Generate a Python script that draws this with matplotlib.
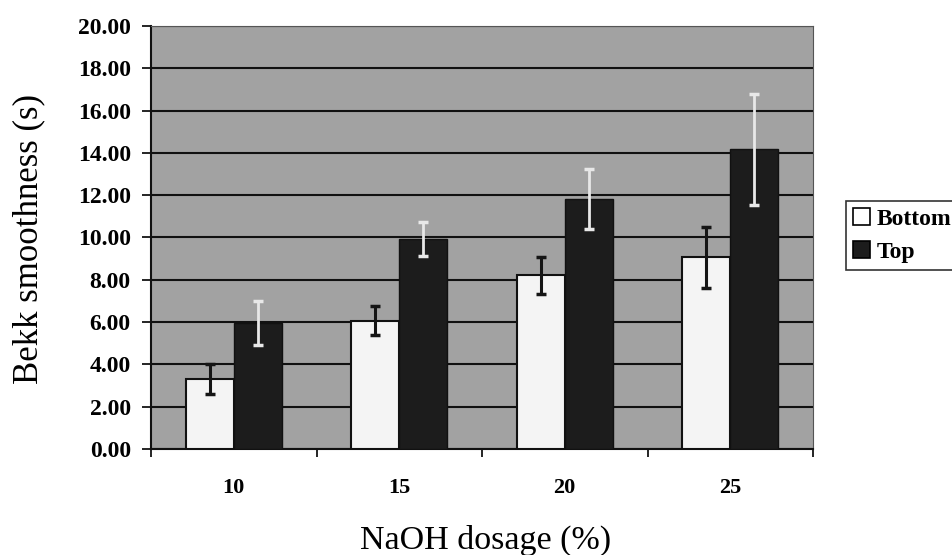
import matplotlib
matplotlib.use("Agg")
import matplotlib.pyplot as plt
import numpy as np
from matplotlib.patches import Patch

categories = ["10", "15", "20", "25"]
bottom_vals = [3.32, 6.06, 8.22, 9.06]
bottom_err = [0.70, 0.68, 0.88, 1.43]
top_vals = [5.95, 9.94, 11.81, 14.17]
top_err = [1.03, 0.80, 1.42, 2.63]
yticks = [0, 2, 4, 6, 8, 10, 12, 14, 16, 18, 20]

plt.rcParams['font.family'] = ['Liberation Serif', 'DejaVu Serif']

W, H = 952, 555
fig = plt.figure(figsize=(W / 100, H / 100), dpi=100)
ax = fig.add_axes([151 / W, 1 - 449 / H, (813 - 151) / W, (449 - 26) / H])
ax.set_facecolor('#a2a2a2')

x = np.arange(len(categories))
bw = 0.29
ax.bar(x - bw / 2, bottom_vals, bw, color='#f4f4f4', edgecolor='#111111', linewidth=1.5, zorder=3)
ax.bar(x + bw / 2, top_vals, bw, color='#1c1c1c', edgecolor='#111111', linewidth=1.0, zorder=3)
ax.errorbar(x - bw / 2, bottom_vals, yerr=bottom_err, fmt='none', ecolor='#151515',
            elinewidth=2.2, capsize=3.5, capthick=2.5, zorder=4)
ax.errorbar(x + bw / 2, top_vals, yerr=top_err, fmt='none', ecolor='#e8e8e8',
            elinewidth=2.0, capsize=3.5, capthick=2.5, zorder=4)

ax.set_xlim(-0.5, len(categories) - 0.5)
ax.set_ylim(0, 20)
ax.set_yticks(yticks)
ax.set_yticklabels([f"{v:.2f}" for v in yticks], fontsize=17, fontweight='bold')
ax.set_xticks(x)
ax.set_xticklabels(categories, fontsize=16, fontweight='bold')
ax.set_xticks(np.arange(len(categories) + 1) - 0.5, minor=True)
ax.tick_params(axis='x', which='major', length=0, pad=21)
ax.tick_params(axis='x', which='minor', length=6, width=1.2, direction='out')
ax.tick_params(axis='y', length=6.5, width=1.2, direction='out', pad=8)

ax.yaxis.grid(True, color='#111111', linewidth=1.5, zorder=1)
ax.set_axisbelow(True)
for side in ['left', 'bottom']:
    ax.spines[side].set_linewidth(1.5)
    ax.spines[side].set_color('#111111')
for side in ['top', 'right']:
    ax.spines[side].set_linewidth(0.8)
    ax.spines[side].set_color('#555555')

fig.text(29 / W, 1 - 239 / H, "Bekk smoothness (s)", rotation=90, ha='center', va='center',
         fontsize=25)
fig.text(486 / W, 1 - 540 / H, "NaOH dosage (%)", ha='center', va='center', fontsize=24.5)

handles = [Patch(facecolor='white', edgecolor='black', linewidth=1.2, label='Bottom'),
           Patch(facecolor='#1c1c1c', edgecolor='black', linewidth=1.2, label='Top')]
leg = fig.legend(handles=handles, loc='upper left', bbox_to_anchor=(846 / W, 1 - 201 / H),
                 frameon=True, fancybox=False, prop={'weight': 'bold', 'size': 17},
                 handlelength=0.7, handleheight=0.7, handletextpad=0.3, borderpad=0.3,
                 labelspacing=0.5, borderaxespad=0)
leg.get_frame().set_edgecolor('black')
leg.get_frame().set_linewidth(1.2)

fig.savefig('out.png', dpi=100)
